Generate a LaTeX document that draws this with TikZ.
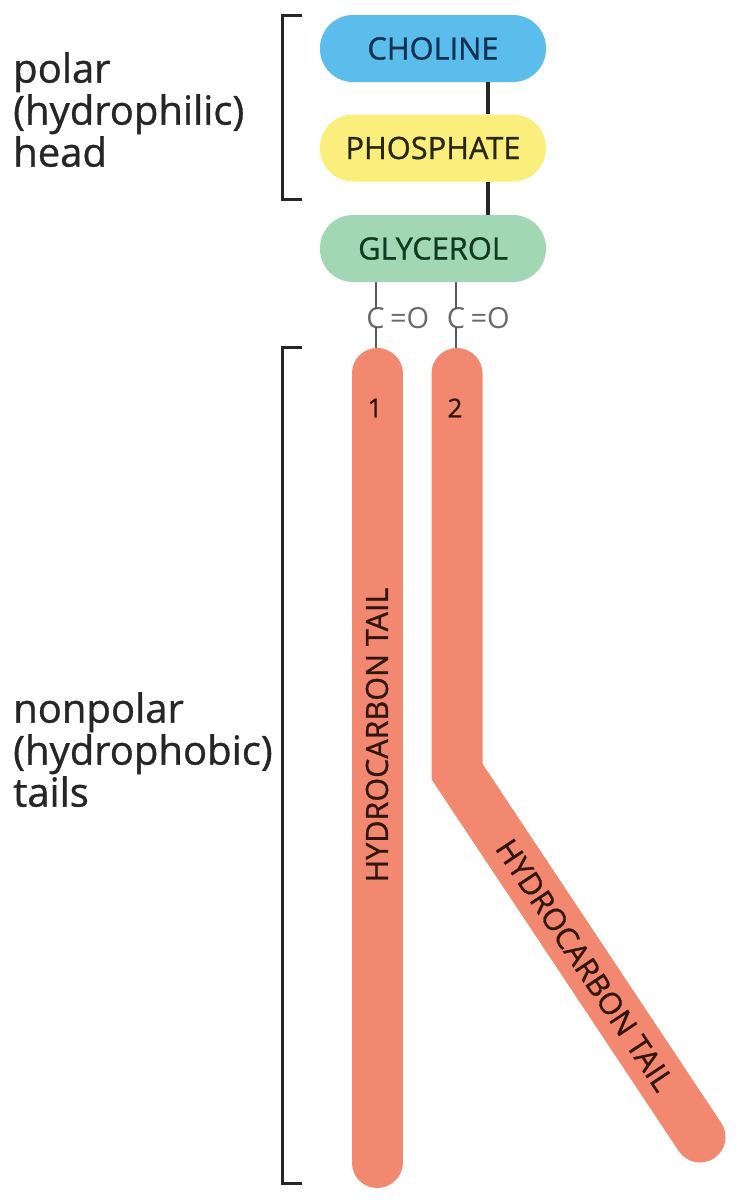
\documentclass[tikz,border=0pt]{standalone}
\usepackage{fontspec}
\setmainfont{Open Sans}
\newfontfamily\medfont{Open Sans}[FakeBold=0.9]
\definecolor{cholinefill}{RGB}{91,189,235}
\definecolor{phosfill}{RGB}{250,239,125}
\definecolor{glycfill}{RGB}{161,215,180}
\definecolor{tailfill}{RGB}{243,136,112}
\definecolor{cholinetxt}{RGB}{18,48,80}
\definecolor{phostxt}{RGB}{40,38,20}
\definecolor{glyctxt}{RGB}{18,58,34}
\definecolor{tailtxt}{RGB}{50,22,14}
\definecolor{cogray}{RGB}{105,105,105}
\begin{document}
\begin{tikzpicture}[x=1pt,y=-1pt,
  headbox/.style={rounded corners=33pt, minimum width=226pt, minimum height=67pt,
    inner sep=0pt, font=\medfont\fontsize{30.8}{36}\selectfont},
  bond/.style={line width=3.5pt, black!85},
  cobond/.style={line width=2pt, black!65},
  cotext/.style={inner sep=0pt, text=cogray, font=\fontsize{29}{32}\selectfont},
  bracket/.style={line width=3pt, black!85},
  tail/.style={line width=51pt, tailfill, line cap=round, line join=miter},
  tailtext/.style={inner sep=0pt, text=tailtxt, font=\medfont\fontsize{30.5}{36}\selectfont},
  numtext/.style={inner sep=0pt, text=tailtxt, font=\medfont\fontsize{26}{30}\selectfont},
  sidetext/.style={inner sep=0pt, align=left, anchor=north west, text=black!85,
    font=\medfont\fontsize{40}{42}\selectfont}
]
\useasboundingbox (0,0) rectangle (741,1200);

% head group
\node[headbox, fill=cholinefill, text=cholinetxt] (choline) at (433,48.5) {CHOLINE};
\node[headbox, fill=phosfill, text=phostxt] (phosphate) at (433,148) {PHOSPHATE};
\node[headbox, fill=glycfill, text=glyctxt] (glycerol) at (433,248.5) {GLYCEROL};

\coordinate (bx) at (488,0);
\draw[bond] (choline.south -| bx) -- (phosphate.north -| bx);
\draw[bond] (phosphate.south -| bx) -- (glycerol.north -| bx);

% C=O groups
\node[cotext] (c1) at (375.5,318) {C};
\node[cotext, anchor=west] (o1) at ([xshift=5pt]c1.east) {=O};
\node[cotext] (c2) at (456,318) {C};
\node[cotext, anchor=west] (o2) at ([xshift=5pt]c2.east) {=O};

% tails
\coordinate (t1top) at (377,373.5);
\coordinate (t1bot) at (377,1162.5);
\coordinate (t2top) at (457,373.5);
\coordinate (t2kink) at (457,771.5);
\coordinate (t2bot) at (700,1137);

\draw[cobond] (glycerol.south -| c1) -- ([yshift=-2pt]c1.north);
\draw[cobond] (glycerol.south -| c2) -- ([yshift=-2pt]c2.north);
\draw[cobond] ([yshift=2pt]c1.south) -- (c1 |- 0,355);
\draw[cobond] ([yshift=2pt]c2.south) -- (c2 |- 0,355);

\draw[tail] (t1top) -- (t1bot);
\draw[tail] (t2top) -- (t2kink) -- (t2bot);

\node[numtext] (n1) at (375,408) {1};
\node[numtext] (n2) at (455,408) {2};

\node[tailtext, rotate=90] (tl1) at (377,735) {HYDROCARBON TAIL};
\node[tailtext, rotate=-56.4] (tl2) at (585,965) {HYDROCARBON TAIL};

% brackets
\draw[bracket] (302,15) -- (282,15) -- (282,199) -- (302,199);
\draw[bracket] (302,347) -- (282,347) -- (282,1183) -- (302,1183);

% side labels
\node[sidetext] (polar) at (13,52) {polar\\(hydrophilic)\\head};
\node[sidetext] (nonpolar) at (13,692) {nonpolar\\(hydrophobic)\\tails};
\end{tikzpicture}
\end{document}
